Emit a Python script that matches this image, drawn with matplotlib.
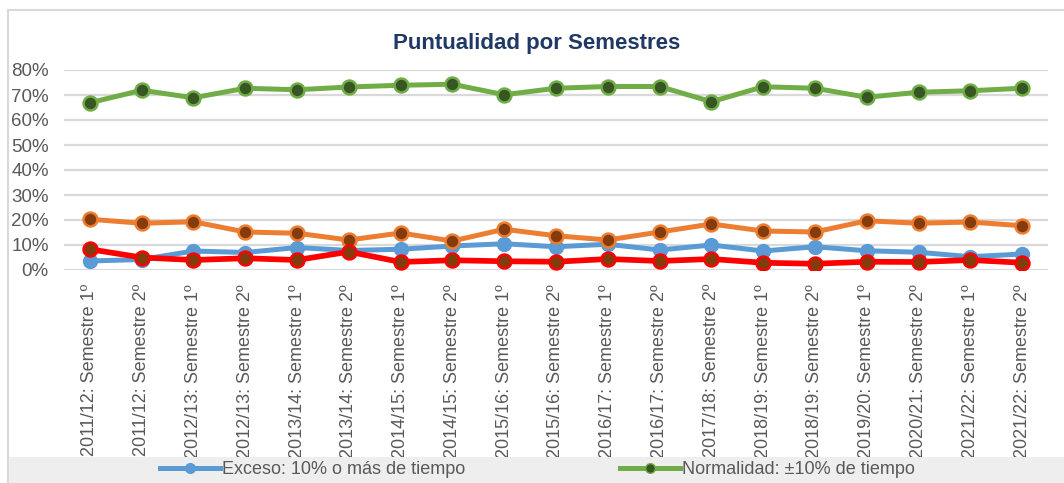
import matplotlib

matplotlib.use("Agg")
import matplotlib.pyplot as plt
from matplotlib.lines import Line2D
from matplotlib.patches import Rectangle
from matplotlib.ticker import PercentFormatter

plt.rcParams["font.family"] = ["Liberation Sans", "DejaVu Sans"]

# semestres (category axis)
semestres = [
    "2011/12: Semestre 1º", "2011/12: Semestre 2º",
    "2012/13: Semestre 1º", "2012/13: Semestre 2º",
    "2013/14: Semestre 1º", "2013/14: Semestre 2º",
    "2014/15: Semestre 1º", "2014/15: Semestre 2º",
    "2015/16: Semestre 1º", "2015/16: Semestre 2º",
    "2016/17: Semestre 1º", "2016/17: Semestre 2º",
    "2017/18: Semestre 2º",
    "2018/19: Semestre 1º", "2018/19: Semestre 2º",
    "2019/20: Semestre 1º",
    "2020/21: Semestre 2º",
    "2021/22: Semestre 1º", "2021/22: Semestre 2º",
]

# values in %
exceso = [3.6, 4.2, 7.6, 7.0, 9.0, 7.8, 8.3, 9.6, 10.5,
          9.3, 10.3, 8.0, 10.0, 7.6, 9.3, 7.7, 7.1, 5.3, 6.4]
normalidad = [66.9, 71.9, 68.9, 72.7, 72.1, 73.2, 73.9, 74.3, 70.1,
              72.7, 73.4, 73.4, 67.3, 73.3, 72.7, 69.1, 71.1, 71.7, 72.7]
defecto = [20.3, 18.7, 19.3, 15.2, 14.7, 12.0, 14.8, 11.6, 16.3,
           13.7, 12.0, 15.2, 18.4, 15.6, 15.2, 19.7, 18.7, 19.2, 17.7]
otros = [8.3, 5.0, 4.0, 4.7, 4.0, 7.3, 3.2, 3.9, 3.5,
         3.3, 4.4, 3.6, 4.4, 2.9, 2.5, 3.3, 3.2, 4.0, 2.9]

BLUE = "#5b9bd5"
GREEN = "#70ad47"
DKGREEN = "#375623"
ORANGE = "#ed7d31"
BROWN = "#843c0c"
RED = "#ff0000"
GRAY_TXT = "#595959"
GRID = "#d9d9d9"

fig = plt.figure(figsize=(10.64, 4.83), dpi=100)
ax = fig.add_axes([64 / 1064, 1 - 270 / 483, (1048 - 64) / 1064, 200 / 483])

x = list(range(len(semestres)))
lw = 3.6
ms = 10
ax.plot(x, exceso, color=BLUE, lw=lw, marker="o", ms=ms, mfc=BLUE, mec=BLUE,
        solid_capstyle="round", zorder=3)
ax.plot(x, normalidad, color=GREEN, lw=lw, marker="o", ms=ms, mfc=DKGREEN,
        mec=GREEN, mew=1.8, solid_capstyle="round", zorder=4)
ax.plot(x, defecto, color=ORANGE, lw=lw, marker="o", ms=ms, mfc=BROWN,
        mec=ORANGE, mew=1.8, solid_capstyle="round", zorder=5)
ax.plot(x, otros, color=RED, lw=lw + 0.5, marker="o", ms=ms, mfc=BROWN,
        mec=RED, mew=1.8, solid_capstyle="round", zorder=6)

ax.set_xlim(-0.5, len(semestres) - 0.5)
ax.set_ylim(0, 80)
ax.set_yticks(range(0, 81, 10))
ax.yaxis.set_major_formatter(PercentFormatter(decimals=0))
ax.set_xticks(x)
ax.set_xticklabels(semestres, rotation=90, va="top", ha="center")
ax.tick_params(axis="y", length=0, pad=11, labelsize=13.5, labelcolor=GRAY_TXT)
ax.tick_params(axis="x", length=0, pad=10, labelsize=13, labelcolor=GRAY_TXT)
ax.grid(axis="y", color=GRID, lw=1.6)
ax.set_axisbelow(True)
for s in ax.spines.values():
    s.set_visible(False)

fig.text(537 / 1064, 1 - 44 / 483, "Puntualidad por Semestres", ha="center",
         va="center", fontsize=16, fontweight="bold", color="#1f3864")

# outer chart frame
fig.patches.append(Rectangle((8 / 1064, -0.05), 1.1, 1 - 10 / 483 + 0.05,
                             transform=fig.transFigure, fill=False,
                             edgecolor=GRID, lw=1.5, zorder=0))

# legend band (covers the bottom of the tick labels)
band = fig.add_axes([8 / 1064, 0, 1 - 8 / 1064, 26 / 483])
band.set_facecolor("#eeeeee")
band.set_xticks([])
band.set_yticks([])
for s in band.spines.values():
    s.set_visible(False)

handles = [
    Line2D([], [], color=BLUE, lw=lw, marker="o", ms=7, mfc=BLUE, mec=BLUE),
    Line2D([], [], color=GREEN, lw=lw, marker="o", ms=7, mfc=DKGREEN, mec=GREEN),
]
labels = ["Exceso: 10% o más de tiempo", "Normalidad: ±10% de tiempo"]
band.legend(handles, labels, loc="center left", bbox_to_anchor=(152 / 1056, 0.5),
            ncol=2, frameon=False, fontsize=13, labelcolor=GRAY_TXT,
            handlelength=3.3, handletextpad=0.12, columnspacing=8.6,
            borderpad=0, borderaxespad=0)

fig.savefig("out.png", dpi=100)
